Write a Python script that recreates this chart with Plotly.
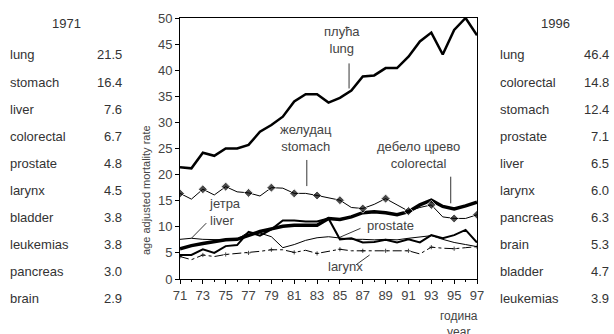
import plotly.graph_objects as go

years = list(range(71, 98))
lung = [21.4, 21.2, 24.2, 23.6, 25.0, 25.0, 25.7, 28.2, 29.5, 31.1, 34.0, 35.4, 35.4, 33.8, 34.7,
        36.1, 38.8, 39.0, 40.4, 40.4, 42.6, 45.5, 47.2, 43.0, 47.7, 50.0, 46.7]
stomach = [16.4, 15.3, 17.2, 16.1, 17.7, 16.7, 16.5, 15.9, 17.5, 17.4, 16.4, 16.4, 16.0, 15.6, 15.1,
           13.7, 13.5, 14.3, 15.4, 14.2, 13.0, 13.7, 14.2, 11.9, 11.6, 11.6, 12.3]
colorectal = [5.8, 6.4, 6.8, 7.2, 7.5, 7.6, 8.4, 9.1, 9.6, 10.1, 10.3, 10.3, 10.3, 11.6, 11.4,
              11.9, 12.7, 12.9, 12.7, 12.3, 12.9, 14.2, 15.1, 13.9, 13.4, 14.0, 14.7]
liver = [7.6, 7.8, 7.6, 7.5, 7.5, 7.6, 9.0, 8.8, 8.1, 6.0, 6.6, 7.4, 7.9, 8.1, 7.8,
         7.6, 7.6, 7.5, 7.6, 7.5, 7.8, 8.0, 8.3, 7.6, 7.0, 6.6, 6.2]
prostate = [4.6, 4.6, 5.7, 5.0, 6.3, 6.5, 9.0, 8.3, 9.5, 11.2, 11.2, 11.0, 11.0, 11.6, 7.6,
            7.8, 7.0, 7.1, 7.5, 7.0, 7.6, 7.0, 8.4, 7.8, 8.4, 9.4, 7.0]
larynx = [4.3, 3.7, 4.6, 4.3, 4.7, 4.9, 5.0, 5.3, 5.6, 5.6, 5.1, 5.5, 4.9, 5.3, 5.7,
          5.4, 5.4, 5.3, 5.4, 5.4, 5.4, 4.8, 6.1, 5.9, 5.8, 6.0, 6.2]

x_tick_vals = list(range(71, 98, 2))
x_tick_text = [str(v) for v in x_tick_vals]
y_tick_vals = list(range(0, 51, 5))

sites_1971 = ["lung", "stomach", "liver", "colorectal", "prostate", "larynx", "bladder",
              "leukemias", "pancreas", "brain"]
rates_1971 = ["21.5", "16.4", "7.6", "6.7", "4.8", "4.5", "3.8", "3.8", "3.0", "2.9"]
sites_1996 = ["lung", "colorectal", "stomach", "prostate", "liver", "larynx", "pancreas",
              "brain", "bladder", "leukemias"]
rates_1996 = ["46.4", "14.8", "12.4", "7.1", "6.5", "6.0", "6.3", "5.3", "4.7", "3.9"]

FONT = "Liberation Sans"
TXT = "#333333"
GR = "#444444"

fig = go.Figure()
odd = [3 if (y % 2 == 1) else 0 for y in years]
fig.add_trace(go.Scatter(x=years, y=larynx, mode="lines+markers",
                         line=dict(color="black", width=1, dash="dashdot"),
                         marker=dict(size=odd, color="black", symbol="cross-thin",
                                     line=dict(width=1, color="black"))))
fig.add_trace(go.Scatter(x=years, y=liver, mode="lines", line=dict(color="black", width=1)))
fig.add_trace(go.Scatter(x=years, y=prostate, mode="lines", line=dict(color="black", width=2)))
fig.add_trace(go.Scatter(x=years, y=colorectal, mode="lines", line=dict(color="black", width=3.5)))
dsize = [7 if (y % 2 == 1) else 0 for y in years]
fig.add_trace(go.Scatter(x=years, y=stomach, mode="lines+markers",
                         line=dict(color="black", width=1),
                         marker=dict(size=dsize, color="black", symbol="diamond")))
fig.add_trace(go.Scatter(x=years, y=lung, mode="lines", line=dict(color="black", width=2.5)))

L, R, T, B = 180, 137, 18, 55
W, H = 614, 334
pw, ph = W - L - R, H - T - B


def px(xp):
    return (xp - L) / pw


def py(yp):
    return (H - B - yp) / ph


ann = []
lab = dict(font=dict(family=FONT, size=13, color=GR), showarrow=False, xref="x", yref="y",
           yanchor="middle")
ann.append(dict(x=85.2, y=45.8, text="плућа<br>lung", xanchor="center", **lab))
ann.append(dict(x=82.0, y=27.1, text="желудац<br>stomach", xanchor="center", **lab))
ann.append(dict(x=91.9, y=23.8, text="дебело црево<br>colorectal", xanchor="center", **lab))
ann.append(dict(x=73.4, y=12.9, text="јетра<br>liver", xanchor="left", align="left", **lab))
ann.append(dict(x=89.4, y=10.3, text="prostate", xanchor="center", **lab))
ann.append(dict(x=85.5, y=2.3, text="larynx", xanchor="center", **lab))

ann.append(dict(x=px(146), y=py(190), xref="paper", yref="paper", text="age adjusted mortality rate",
                textangle=-90, showarrow=False, xanchor="center", yanchor="middle",
                font=dict(family=FONT, size=11, color=GR)))
ann.append(dict(x=px(459), y=py(307), xref="paper", yref="paper", text="година<br>year",
                showarrow=False, xanchor="center", yanchor="top",
                font=dict(family=FONT, size=12, color=GR)))

tfont = dict(family=FONT, size=13, color=TXT)
ann.append(dict(x=px(66), y=py(23), xref="paper", yref="paper", text="1971", showarrow=False,
                xanchor="center", yanchor="middle", font=tfont))
ann.append(dict(x=px(555), y=py(23), xref="paper", yref="paper", text="1996", showarrow=False,
                xanchor="center", yanchor="middle", font=tfont))
for i in range(10):
    yy = py(55 + 27.1 * i)
    common = dict(xref="paper", yref="paper", showarrow=False, yanchor="middle", font=tfont)
    ann.append(dict(x=px(8), y=yy, text=sites_1971[i], xanchor="left", **common))
    ann.append(dict(x=px(124), y=yy, text=rates_1971[i], xanchor="right", **common))
    ann.append(dict(x=px(498), y=yy, text=sites_1996[i], xanchor="left", **common))
    ann.append(dict(x=px(611), y=yy, text=rates_1996[i], xanchor="right", **common))

leaders = [((85.8, 41.3), (85.8, 36.5)), ((82.1, 22.8), (82.1, 17.8)), ((94.7, 19.6), (94.7, 14.5)),
           ((73.3, 10.7), (72.0, 7.8)), ((86.8, 9.7), (85.0, 8.0)), ((86.4, 2.7), (87.6, 4.6))]
shapes = [dict(type="line", xref="x", yref="y", x0=a[0], y0=a[1], x1=b[0], y1=b[1],
               line=dict(color="black", width=0.8)) for a, b in leaders]

fig.update_layout(
    width=W, height=H, margin=dict(l=L, r=R, t=T, b=B),
    paper_bgcolor="white", plot_bgcolor="white", showlegend=False, hovermode=False,
    annotations=ann, shapes=shapes,
    xaxis=dict(range=[71, 97], tickvals=x_tick_vals, ticktext=x_tick_text, showgrid=False,
               zeroline=False, showline=True, linecolor="black", linewidth=1, mirror=True,
               ticks="outside", ticklen=4, tickcolor="black",
               minor=dict(tickvals=years, ticks="outside", ticklen=2, tickcolor="black"),
               tickfont=dict(family=FONT, size=13, color=GR)),
    yaxis=dict(range=[0, 50], tickvals=y_tick_vals, showgrid=False, zeroline=False,
               showline=True, linecolor="black", linewidth=1, mirror=True,
               ticks="outside", ticklen=4, tickcolor="black",
               tickfont=dict(family=FONT, size=13, color=GR)),
)
fig.write_html("out.html", config={"displayModeBar": False},
               post_script="document.body.style.margin='0';document.body.style.overflow='hidden';")
